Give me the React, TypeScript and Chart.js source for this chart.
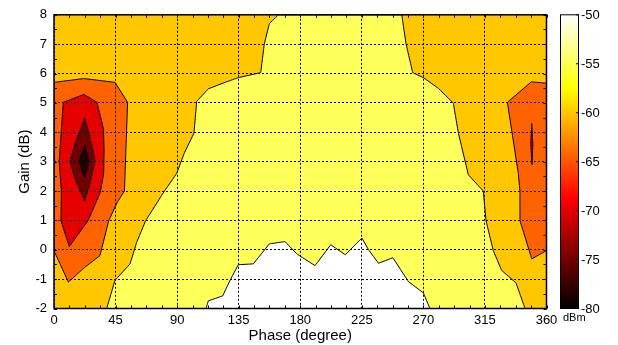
import React, { useEffect, useRef } from "react";
import { Chart, registerables } from "chart.js";

Chart.register(...registerables);

// ---------- data ----------
const xTicks = [0, 45, 90, 135, 180, 225, 270, 315, 360];
const yTicks = [-2, -1, 0, 1, 2, 3, 4, 5, 6, 7, 8];
const xMinorStep = 11.25;
const yMinorStep = 0.5;
const colorbarTicks = [-80, -75, -70, -65, -60, -55, -50];
const colorbarUnit = "dBm";

// contour bands, [phase (deg), gain (dB)] vertices
const band60Full: [number, number][] = [
  [0, -2], [360, -2], [360, 8], [0, 8], [0, -2],
];
const band55Center: [number, number][] = [
  [164, 8], [157.4, 7.7], [153.7, 7.0], [151.1, 6.03], [134.7, 5.86], [126.2, 5.72],
  [112.8, 5.48], [104.3, 5.05], [102.3, 3.97], [95.3, 3.3], [89.7, 2.6], [79.9, 1.94],
  [67, 0.99], [60.4, 0.25], [55.6, -0.48], [44.6, -1.04], [38.5, -2], [344.3, -2],
  [337.7, -1.13], [327.2, -0.7], [321.1, -0.03], [315.8, 0.99], [313.8, 2.0],
  [302.9, 2.55], [295.6, 3.97], [291.9, 4.99], [280.9, 5.5], [270, 5.86],
  [262.2, 6.03], [257.3, 7.02], [254.2, 8], [164, 8],
];
const band50Bottom: [number, number][] = [
  [111.1, -2], [112.8, -1.74], [123.3, -1.57], [128.7, -1.04], [134.7, -0.51],
  [145.7, -0.48], [157.4, 0.2], [168.9, 0.28], [177.4, -0.14], [190.8, -0.54],
  [202.3, 0.17], [212.9, -0.17], [225.1, 0.4], [229.9, 0.0], [237.2, -0.46],
  [247.7, -0.27], [259, -1.08], [270, -1.47], [274.8, -2], [111.1, -2],
];
const band65Left: [number, number][] = [
  [0, 5.7], [21.9, 5.83], [44.6, 5.7], [53.8, 5.02], [51.5, 2.0], [46.3, 1.62],
  [40, 0.99], [33.6, -0.2], [22.7, -0.59], [10.5, -1.1], [0, -0.03], [0, 5.7],
];
const band65Right: [number, number][] = [
  [331.4, 5.02], [349, 5.72], [360, 5.67], [360, -0.03], [349.2, -0.31],
  [340.6, 0.99], [340.6, 2.0], [339.4, 2.6], [331.4, 5.02],
];
const band70Left: [number, number][] = [
  [6.8, 5.02], [22, 5.29], [31.4, 5.02], [36.2, 4.1], [36.6, 3.36], [36.3, 2.6],
  [33.8, 1.95], [25, 1.0], [11.2, 0.11], [5.1, 0.99], [5.4, 2.0], [3.8, 3.02], [6.8, 5.02],
];
const band70Right: [number, number][] = [
  [349.2, 4.3], [350.0, 3.6], [349.4, 2.9], [348.5, 3.6], [349.2, 4.3],
];
const band75Left: [number, number][] = [
  [22.5, 4.48], [27.5, 3.6], [29.9, 3.02], [26.5, 2.3], [22.5, 1.67],
  [15.5, 2.4], [11.7, 3.02], [16, 3.7], [22.5, 4.48],
];
const band80Left: [number, number][] = [
  [22.4, 3.56], [25.6, 3.02], [22.4, 2.45], [18.3, 3.02], [22.4, 3.56],
];

// ---------- styling ----------
const FONT = "'Liberation Sans', Arial, Helvetica, sans-serif";

function hot(t: number): [number, number, number] {
  const c = (v: number) => Math.max(0, Math.min(1, v));
  return [c(t / 0.375), c((t - 0.375) / 0.375), c((t - 0.75) / 0.25)].map((v) =>
    Math.round(v * 255)
  ) as [number, number, number];
}

const layers = [
  { pts: band60Full, color: "#ffc700", border: 0 },
  { pts: band55Center, color: "#ffff5a", border: 1 },
  { pts: band50Bottom, color: "#ffffff", border: 1 },
  { pts: band65Left, color: "#ff6200", border: 1 },
  { pts: band65Right, color: "#ff6200", border: 1 },
  { pts: band70Left, color: "#e60000", border: 1 },
  { pts: band70Right, color: "#e60000", border: 1 },
  { pts: band75Left, color: "#730000", border: 1 },
  { pts: band80Left, color: "#1e0000", border: 1 },
];

const framePlugin = {
  id: "frameAndColorbar",
  afterDraw(chart: any) {
    const { ctx, chartArea: a, scales } = chart;
    const xs = scales.x;
    const ys = scales.y;
    const xmin = xTicks[0], xmax = xTicks[xTicks.length - 1];
    const ymin = yTicks[0], ymax = yTicks[yTicks.length - 1];
    ctx.save();
    ctx.strokeStyle = "#000";
    ctx.lineWidth = 1;
    const tl = 3;
    ctx.beginPath();
    for (let v = xmin; v <= xmax + 1e-9; v += xMinorStep) {
      const px = Math.round(xs.getPixelForValue(v)) + 0.5;
      ctx.moveTo(px, a.bottom);
      ctx.lineTo(px, a.bottom - tl);
      ctx.moveTo(px, a.top);
      ctx.lineTo(px, a.top + tl);
    }
    for (let v = ymin; v <= ymax + 1e-9; v += yMinorStep) {
      const py = Math.round(ys.getPixelForValue(v)) + 0.5;
      ctx.moveTo(a.left, py);
      ctx.lineTo(a.left + tl, py);
      ctx.moveTo(a.right, py);
      ctx.lineTo(a.right - tl, py);
    }
    ctx.stroke();
    ctx.lineWidth = 1.5;
    ctx.strokeRect(a.left, a.top, a.right - a.left, a.bottom - a.top);

    // colorbar
    const cbL = 560, cbR = 579;
    const cbT = a.top, cbB = a.bottom;
    const g = ctx.createLinearGradient(0, cbB, 0, cbT);
    const n = 64;
    for (let i = 0; i <= n; i++) {
      const t = i / n;
      const [r, gg, b] = hot(t);
      g.addColorStop(t, `rgb(${r},${gg},${b})`);
    }
    ctx.fillStyle = g;
    ctx.fillRect(cbL, cbT, cbR - cbL, cbB - cbT);
    ctx.lineWidth = 1;
    ctx.strokeRect(cbL + 0.5, cbT, cbR - cbL - 1, cbB - cbT);
    const cmin = colorbarTicks[0], cmax = colorbarTicks[colorbarTicks.length - 1];
    ctx.fillStyle = "#000";
    ctx.font = `13px ${FONT}`;
    ctx.textAlign = "left";
    ctx.textBaseline = "middle";
    ctx.beginPath();
    for (const v of colorbarTicks) {
      const py = cbB - ((v - cmin) / (cmax - cmin)) * (cbB - cbT);
      ctx.moveTo(cbR, py);
      ctx.lineTo(cbR - 3, py);
      ctx.fillText(String(v), cbR + 2, py + 1);
    }
    ctx.stroke();
    ctx.font = `11px ${FONT}`;
    ctx.fillText(colorbarUnit, cbL + 3, cbB + 9);
    ctx.restore();
  },
};

export default function App() {
  const ref = useRef<HTMLCanvasElement | null>(null);
  useEffect(() => {
    if (!ref.current) return;
    const datasets = layers.map((l, i) => ({
      data: l.pts.map(([x, y]) => ({ x, y })),
      fill: "shape",
      backgroundColor: l.color,
      borderColor: "#000",
      borderWidth: l.border,
      pointRadius: 0,
      pointHoverRadius: 0,
      tension: 0.000001,
      order: layers.length - i,
    }));
    const chart = new Chart(ref.current, {
      type: "line",
      data: { datasets: datasets as any },
      options: {
        responsive: false,
        animation: false,
        devicePixelRatio: 1,
        layout: { padding: { top: 13, right: 71.5, left: 0, bottom: 0 } },
        plugins: { legend: { display: false }, tooltip: { enabled: false } },
        events: [],
        scales: {
          x: {
            type: "linear",
            min: xTicks[0],
            max: xTicks[xTicks.length - 1],
            afterBuildTicks: (s: any) => {
              s.ticks = xTicks.map((v) => ({ value: v }));
            },
            afterFit: (s: any) => {
              s.height = 36.5;
            },
            grid: { color: "#000", lineWidth: 1, drawTicks: false, z: 1 },
            border: { display: false, dash: [2, 2] },
            ticks: {
              padding: 4,
              color: "#000",
              font: { family: FONT, size: 13 },
              maxRotation: 0,
              autoSkip: false,
            },
            title: {
              display: true,
              text: "Phase (degree)",
              color: "#000",
              font: { family: FONT, size: 15 },
              padding: { top: 0, bottom: 0 },
            },
          },
          y: {
            type: "linear",
            min: yTicks[0],
            max: yTicks[yTicks.length - 1],
            afterBuildTicks: (s: any) => {
              s.ticks = yTicks.map((v) => ({ value: v }));
            },
            afterFit: (s: any) => {
              s.width = 54;
            },
            grid: { color: "#000", lineWidth: 1, drawTicks: false, z: 1 },
            border: { display: false, dash: [2, 2] },
            ticks: {
              padding: 7,
              color: "#000",
              font: { family: FONT, size: 13 },
              autoSkip: false,
            },
            title: {
              display: true,
              text: "Gain (dB)",
              color: "#000",
              font: { family: FONT, size: 15 },
              padding: { top: 16, bottom: 0 },
            },
          },
        },
      } as any,
      plugins: [framePlugin],
    });
    return () => chart.destroy();
  }, []);
  return (
    <div style={{ position: "fixed", left: 0, top: 0, width: 618, height: 345, background: "#fff" }}>
      <canvas ref={ref} width={618} height={345} style={{ width: 618, height: 345, display: "block" }} />
    </div>
  );
}
